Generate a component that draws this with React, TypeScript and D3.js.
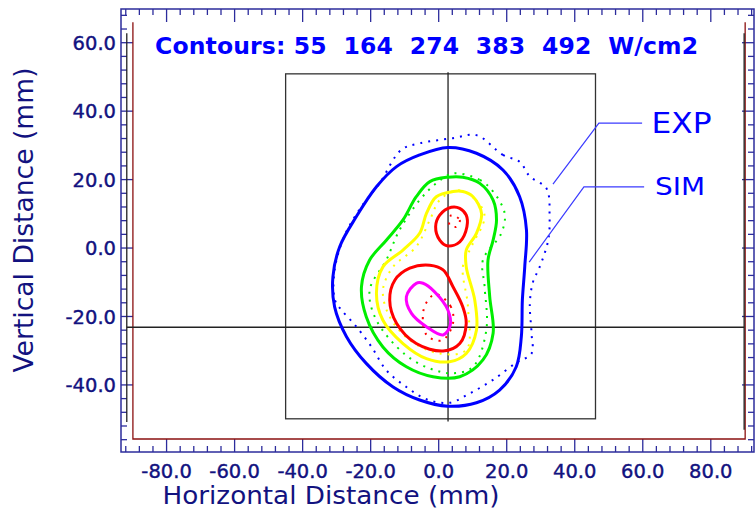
import React, { useEffect, useRef } from 'react';
import * as d3 from 'd3';

type Pt = [number, number];

// contour levels in W/cm2, colour per level
const levels = [55, 164, 274, 383, 492];
const levelColors = ['#0000ff', '#00ee00', '#ffff00', '#ff0000', '#ff00ff'];

const xMajor = [-80, -60, -40, -20, 0, 20, 40, 60, 80];
const yMajor = [-40, -20, 0, 20, 40, 60];

// simulated contours (mm), solid lines
const simBlue: Pt[] = [
  [2.7, 29.4], [11.1, 27.7], [18.9, 22.8], [23.8, 15], [25.8, 5.3], [25.3, -5.5], [24.6, -15.2],
  [24.3, -25.9], [22.8, -34.7], [17.9, -41.5], [11.1, -45.2], [2.7, -46.2], [-5.6, -44.4],
  [-13.4, -40.6], [-21.3, -33.7], [-27.1, -25.9], [-30.6, -17.2], [-31.1, -8.4], [-29.1, 0.4],
  [-24.2, 9.2], [-18.3, 17.9], [-12.4, 23.8], [-5.6, 27.2],
];
const simGreen: Pt[] = [
  [2.7, 20.7], [7.1, 20.7], [12.1, 18.9], [16, 14], [17, 8.2], [16, 2.3], [14.5, -3.5], [15, -14.2],
  [16, -24.9], [13, -32.7], [6.2, -37.6], [-1.7, -37.6], [-9.5, -34.7], [-16.4, -28.9],
  [-21.3, -20.1], [-22.7, -11.3], [-20.3, -3.5], [-15.4, 2.3], [-10.5, 8.2], [-6.6, 15], [-2.6, 19.4],
];
const simYellow: Pt[] = [
  [4.2, 16.5], [7.1, 16.5], [10.1, 15], [12.6, 10.1], [11.1, 4.3], [8.1, -0.6], [8.1, -5.5],
  [10.6, -15.2], [11.1, -24], [8.1, -30.8], [3.2, -33.2], [-3.6, -32.3], [-10.5, -27.9],
  [-16.4, -21.1], [-18.3, -13.2], [-16.4, -5.5], [-10.5, -0.6], [-5.6, 4.3], [-3.6, 10.1], [-0.7, 15],
];
const simRedUpper: Pt[] = [
  [3.7, 11.9], [6.2, 11.6], [8.1, 9.6], [8.3, 6.2], [6.2, 1.8], [2.7, 0.6], [0.3, 2.3], [-0.9, 6.2], [0.3, 9.6],
];
const simRedLower: Pt[] = [
  [-2.6, -5], [1.3, -6.4], [4.2, -11.3], [7.1, -17.2], [8.1, -22], [6.2, -27.9], [1.3, -30.1],
  [-6.6, -27.9], [-12.4, -22], [-14.4, -15.2], [-12.9, -9.4], [-8.5, -5.9],
];
const simMagenta: Pt[] = [
  [-6.6, -10.3], [-4.6, -10.3], [-1.2, -12.8], [2.7, -18.1], [3.4, -22.5], [1.3, -25.4],
  [-3.6, -23], [-8, -19.1], [-9.5, -14.2],
];

// measured contours (mm), sparse dots
const expBlue: Pt[] = [
  [11.1, 33.0], [18.9, 27.2], [23.8, 25.2], [26.8, 20.9], [31.7, 17.4], [32.6, 9.2], [32.2, 2.3],
  [29.7, -5.5], [27.7, -10], [26.8, -16.2], [27.3, -25], [27.3, -30.8], [22.8, -33.5], [16, -38.5],
  [9.1, -42.5], [3.2, -45.2], [-3.6, -44.2], [-9.5, -40.6], [-15.4, -35.7], [-19.8, -28.8],
  [-24.6, -22.5], [-28.6, -18.1], [-30.5, -15.2], [-30.6, -6.4], [-27.6, 3.8], [-22.7, 12.1],
  [-17.4, 18.9], [-11, 28.7], [-5.6, 30.6], [4.2, 32.1],
];
const expGreen: Pt[] = [
  [4.2, 21.8], [12.1, 19.9], [16, 16.5], [19.4, 10.1], [18.4, 4.3], [13, -3.5], [13.5, -11.3],
  [14, -24], [10.1, -34.7], [4.2, -36.6], [-2.6, -35.2], [-10, -31], [-18.3, -21.1], [-20.3, -12.3],
  [-15.4, -3.5], [-11.5, 5.3], [-5.6, 14], [-0.7, 18.9],
];
const expYellow: Pt[] = [
  [5.6, 16.9], [11, 14], [13.5, 9.2], [9.6, 0.4], [7.1, -5.5], [8.6, -17.2], [8.1, -29.8],
  [0.3, -30.8], [-8.5, -26.9], [-14.4, -20.1], [-16.4, -12.3], [-13.4, -5.5], [-6.6, 0.4],
  [-2.6, 8.2], [0.3, 14],
];
const expRedUpper: Pt[] = [[3.7, 9.6], [6.2, 8.2], [5.2, 6.2], [3.2, 6.7]];
const expRedLower: Pt[] = [
  [-0.7, -13.5], [3.5, -17], [4.2, -22], [1, -27], [-3.5, -25.5], [-4.6, -19], [-3, -15],
];

const simSets = [
  { pts: simBlue, level: 0 }, { pts: simGreen, level: 1 }, { pts: simYellow, level: 2 },
  { pts: simRedUpper, level: 3 }, { pts: simRedLower, level: 3 }, { pts: simMagenta, level: 4 },
];
const expSets = [
  { pts: expBlue, level: 0 }, { pts: expGreen, level: 1 }, { pts: expYellow, level: 2 },
  { pts: expRedUpper, level: 3 }, { pts: expRedLower, level: 3 },
];

const W = 755;
const H = 516;
const navy = '#12127f';
const frameColor = '#2c2c9c';

const App = () => {
  const svgRef = useRef<SVGSVGElement>(null);

  useEffect(() => {
    const svg = d3.select(svgRef.current);
    svg.selectAll('*').remove();

    const x = d3.scaleLinear().domain([-93.4, 92.7]).range([121, 754]);
    const y = d3.scaleLinear().domain([-59.6, 69.85]).range([452, 9]);
    const fmt = (v: number) => d3.format('.1f')(v).replace('\u2212', '-');

    svg.append('rect').attr('width', W).attr('height', H).attr('fill', '#fff');

    // outer frame
    const [x0, x1] = x.range();
    const [y0, y1] = y.range();
    svg.append('rect')
      .attr('x', x0).attr('y', y1).attr('width', x1 - x0).attr('height', y0 - y1)
      .attr('fill', 'none').attr('stroke', frameColor).attr('stroke-width', 1.5);

    const xMinor = d3.range(-92, 93, 4).filter(v => !xMajor.includes(v));
    const yMinor = d3.range(-56, 69, 4).filter(v => !yMajor.includes(v));
    const ticks = svg.append('g').attr('stroke', frameColor).attr('stroke-width', 1.3);

    const xTick = (vals: number[], len: number) => {
      vals.forEach(v => {
        ticks.append('line').attr('x1', x(v)).attr('x2', x(v)).attr('y1', y0).attr('y2', y0 - len);
        ticks.append('line').attr('x1', x(v)).attr('x2', x(v)).attr('y1', y1).attr('y2', y1 + len);
      });
    };
    const yTick = (vals: number[], len: number) => {
      vals.forEach(v => {
        ticks.append('line').attr('y1', y(v)).attr('y2', y(v)).attr('x1', x0).attr('x2', x0 + len);
        ticks.append('line').attr('y1', y(v)).attr('y2', y(v)).attr('x1', x1).attr('x2', x1 - len);
      });
    };
    xTick(xMinor, 6);
    xTick(xMajor, 13);
    yTick(yMinor, 6);
    yTick(yMajor, 12);

    // tick labels
    svg.append('g')
      .selectAll('text')
      .data(xMajor)
      .enter()
      .append('text')
      .attr('x', d => x(d))
      .attr('y', 478)
      .attr('text-anchor', 'middle')
      .attr('font-family', 'DejaVu Sans')
      .attr('font-size', 19.5)
      .attr('fill', navy)
      .attr('stroke', navy)
      .attr('stroke-width', 0.4)
      .text(d => fmt(d));

    svg.append('g')
      .selectAll('text')
      .data(yMajor)
      .enter()
      .append('text')
      .attr('x', 116)
      .attr('y', d => y(d) + 7.2)
      .attr('text-anchor', 'end')
      .attr('font-family', 'DejaVu Sans')
      .attr('font-size', 19.5)
      .attr('fill', navy)
      .attr('stroke', navy)
      .attr('stroke-width', 0.4)
      .text(d => fmt(d));

    // axis titles
    svg.append('text')
      .attr('x', 331)
      .attr('y', 504)
      .attr('text-anchor', 'middle')
      .attr('font-family', 'DejaVu Sans')
      .attr('font-size', 25.5)
      .attr('fill', navy)
      .attr('textLength', 337)
      .attr('lengthAdjust', 'spacingAndGlyphs')
      .text('Horizontal Distance (mm)');

    svg.append('text')
      .attr('transform', 'translate(33,220) rotate(-90)')
      .attr('text-anchor', 'middle')
      .attr('font-family', 'DejaVu Sans')
      .attr('font-size', 27)
      .attr('fill', navy)
      .attr('textLength', 305)
      .attr('lengthAdjust', 'spacingAndGlyphs')
      .text('Vertical Distance (mm)');

    // inner red open frame and black side bars
    const red = d3.line<Pt>().x(d => x(d[0])).y(d => y(d[1]));
    svg.append('path')
      .attr('d', red([[-89.9, 66], [-89.9, -55.8], [90.1, -55.8], [90.1, 66]]))
      .attr('fill', 'none').attr('stroke', '#8b1010').attr('stroke-width', 1.3);
    svg.append('line')
      .attr('x1', x(-91.7)).attr('x2', x(-91.7)).attr('y1', y(62.8)).attr('y2', y(-50.8))
      .attr('stroke', '#222').attr('stroke-width', 1.3);
    svg.append('line')
      .attr('x1', x(89.8)).attr('x2', x(89.8)).attr('y1', y(62.8)).attr('y2', y(-53.1))
      .attr('stroke', '#222').attr('stroke-width', 1.3);

    // aperture box and crosshair
    svg.append('rect')
      .attr('x', x(-45)).attr('y', y(50.9))
      .attr('width', x(46.1) - x(-45)).attr('height', y(-49.9) - y(50.9))
      .attr('fill', 'none').attr('stroke', '#333').attr('stroke-width', 1.3);
    svg.append('line')
      .attr('x1', x(-91.7)).attr('x2', x(89.8)).attr('y1', y(-23.15)).attr('y2', y(-23.15))
      .attr('stroke', '#222').attr('stroke-width', 1.3);
    svg.append('line')
      .attr('x1', x(2.75)).attr('x2', x(2.75)).attr('y1', y(51.4)).attr('y2', y(-50.7))
      .attr('stroke', '#222').attr('stroke-width', 1.3);

    const closed = d3.line<Pt>()
      .x(d => x(d[0]))
      .y(d => y(d[1]))
      .curve(d3.curveCatmullRomClosed.alpha(0.5));

    // measured (sparse dots)
    svg.append('g')
      .selectAll('path')
      .data(expSets)
      .enter()
      .append('path')
      .attr('d', d => closed(d.pts))
      .attr('fill', 'none')
      .attr('stroke', d => levelColors[d.level])
      .attr('stroke-width', 2)
      .attr('stroke-dasharray', '2 6');

    // simulated (solid)
    svg.append('g')
      .selectAll('path')
      .data(simSets)
      .enter()
      .append('path')
      .attr('d', d => closed(d.pts))
      .attr('fill', 'none')
      .attr('stroke', d => levelColors[d.level])
      .attr('stroke-width', 3);

    // title
    svg.append('text')
      .attr('x', 155)
      .attr('y', 54.3)
      .attr('font-family', 'DejaVu Sans')
      .attr('font-weight', 'bold')
      .attr('font-size', 23.5)
      .attr('fill', '#0000ff')
      .attr('textLength', 543)
      .style('white-space', 'pre')
      .text(`Contours: ${levels.join('  ')}  W/cm2`);

    // EXP / SIM leaders
    const leaders = [
      { label: 'EXP', pts: [[33.6, 18.7], [47.1, 36.5], [59.8, 36.5]] as Pt[], tx: 62.6, ty: 33.5, len: 60, size: 28 },
      { label: 'SIM', pts: [[26.6, -4.1], [42.7, 17.9], [60.4, 17.9]] as Pt[], tx: 63.6, ty: 15.5, len: 50, size: 25 },
    ];
    const lead = d3.line<Pt>().x(d => x(d[0])).y(d => y(d[1]));
    leaders.forEach(l => {
      svg.append('path')
        .attr('d', lead(l.pts))
        .attr('fill', 'none')
        .attr('stroke', '#3b3bff')
        .attr('stroke-width', 1.2);
      svg.append('text')
        .attr('x', x(l.tx))
        .attr('y', y(l.ty))
        .attr('font-family', 'DejaVu Sans')
        .attr('font-size', l.size)
        .attr('fill', '#0000ff')
        .attr('textLength', l.len)
        .attr('lengthAdjust', 'spacingAndGlyphs')
        .text(l.label);
    });
  }, []);

  return (
    <svg
      ref={svgRef}
      width={W}
      height={H}
      style={{ position: 'absolute', left: 0, top: 0, display: 'block' }}
    />
  );
};

export default App;
